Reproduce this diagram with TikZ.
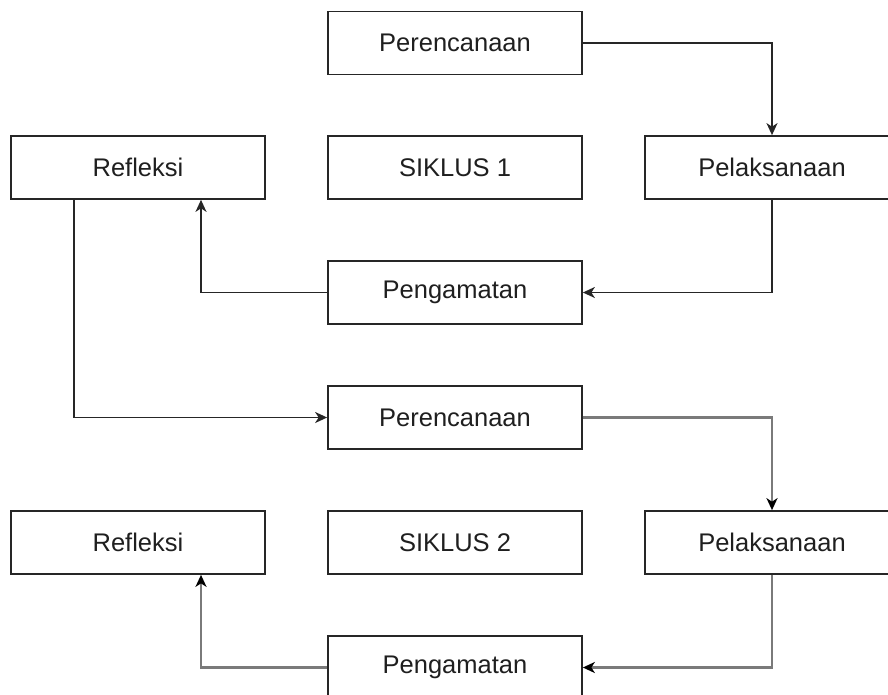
\documentclass[tikz,border=0pt]{standalone}
\usepackage{fontspec}
\setmainfont{Liberation Sans}
\usetikzlibrary{arrows.meta}
\definecolor{linegray}{HTML}{7A7A7A}
\begin{document}
\begin{tikzpicture}[x=1pt,y=-1pt,
  box/.style={draw=black!85, line width=1.7pt, fill=white, minimum width=254pt, minimum height=63pt,
    inner sep=0pt, font=\fontsize{25.5}{30}\selectfont, text=black!88},
  link/.style={draw=black!85, line width=1.6pt, -{Stealth[length=12pt,width=11pt,inset=3.5pt]}},
  glink/.style={draw=linegray, line width=2.4pt, -{Stealth[length=12pt,width=11pt,inset=3.5pt]}, arrows={[color=black]}}
]
\useasboundingbox (0,0) rectangle (888,694);
\node[box] (per1) at (455,43) {Perencanaan};
\node[box] (ref1) at (138,167.5) {Refleksi};
\node[box] (sik1) at (455,167.5) {SIKLUS 1};
\node[box] (pel1) at (772,167.5) {Pelaksanaan};
\node[box] (pen1) at (455,292.5) {Pengamatan};
\node[box] (per2) at (455,417.5) {Perencanaan};
\node[box] (ref2) at (138,542.5) {Refleksi};
\node[box] (sik2) at (455,542.5) {SIKLUS 2};
\node[box] (pel2) at (772,542.5) {Pelaksanaan};
\node[box] (pen2) at (455,667.5) {Pengamatan};

\draw[link] (per1.east) -| (pel1.north);
\draw[link] (pel1.south) |- (pen1.east);
\draw[link] (pen1.west) -| ([xshift=63pt]ref1.south);
\draw[link] ([xshift=-64pt]ref1.south) |- (per2.west);
\draw[glink] (per2.east) -| (pel2.north);
\draw[glink] (pel2.south) |- (pen2.east);
\draw[glink] (pen2.west) -| ([xshift=63pt]ref2.south);
\end{tikzpicture}
\end{document}
